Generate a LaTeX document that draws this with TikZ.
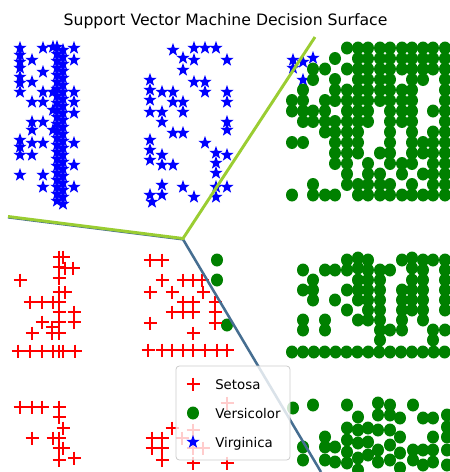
\documentclass[tikz,border=0pt]{standalone}
\usepackage{fontspec}
\setmainfont{DejaVu Sans}
\usetikzlibrary{positioning}
\definecolor{setred}{RGB}{255,0,0}
\definecolor{vergreen}{RGB}{0,128,0}
\definecolor{virblue}{RGB}{0,0,255}
\definecolor{svmgreen}{RGB}{154,205,50}
\definecolor{svmblue}{RGB}{70,110,145}
\tikzset{
    setosa/.pic={\draw[setred, line width=2.1pt] (-6.5,0) -- (6.5,0) (0,-6.5) -- (0,6.5);},
    versicolor/.pic={\fill[vergreen] (0,0) ellipse [x radius=6, y radius=6.5];},
    virginica/.pic={\fill[virblue] (-90:7) -- (-54:2.8) -- (-18:7) -- (18:2.8) -- (54:7)
        -- (90:2.8) -- (126:7) -- (162:2.8) -- (198:7) -- (234:2.8) -- cycle;},
    legtext/.style={anchor=base west, inner sep=0pt, font=\fontsize{10}{12}\selectfont},
    legbox/.style={draw=black!20, fill=white, fill opacity=0.8, rounded corners=2.5pt, line width=0.6pt},
}

\begin{document}
\begin{tikzpicture}[x=0.75pt, y=-0.75pt]
    \useasboundingbox (0,0) rectangle (450,472);
    \node[anchor=base, font=\fontsize{11.75}{14}\selectfont] (title) at (225.5,25) {Support Vector Machine Decision Surface};
    % virginica
    \foreach \x/\y in {20/48,20/55,20/62,20/68,20/77,20/83,20/92,32/60,43/48,43/72,32/82,43/92,32/102,43/102,
        53/92,53/110,53/130,32/122,32/130,43/122,32/143,43/143,20/140,20/147,20/155,32/155,20/175,43/175,43/187,
        74/48,74/60,74/92,74/102,74/113,74/143,74/165,74/187,53/47}
        \pic at (\x,\y) {virginica};
    \foreach \y in {47,54,61,68,75,82,89,96,103,110,117,124,131,138,145,152,159,166,173,180,187,194,201}{
        \pic at (57,\y) {virginica};
        \pic at (63,\y+3) {virginica};
    }
    \foreach \x/\y in {173/50,183/58,194/48,205/48,216/48,227/60,183/70,194/60,150/80,150/90,150/100,150/112,
        162/92,173/92,173/102,183/102,183/112,162/112,162/122,194/82,205/82,205/92,227/92,227/102,227/122,
        227/130,173/133,183/133,205/143,216/153,216/163,216/173,227/155,150/140,150/150,150/160,162/155,
        162/165,173/165,183/187,194/197,162/185,162/195,150/195,216/187,216/197,227/187,152/202,
        293/60,303/62,313/58,293/68,303/80}
        \pic at (\x,\y) {virginica};
    % versicolor
    \foreach \c/\rows in {292/{5,6,9,14},303/{4,5,6,7,9},313/{2,3,6,7,13,14},325/{2,5,6,7,8,14},
        335/{1,3,4,5,7,8,9,10,11,14},347/{0,2,4,5,6,7,8,9,10,11,12,13},358/{0,1,2,3,4,5,6,7,8,9,10,13,14},
        368/{0,1,2,3,4,5,6,7,11,12,13,14},380/{0,1,2,3,4,5,10,12,13,14},390/{0,1,2,3,4,5,6,7,8,9,10,11,13,14},
        402/{0,1,2,4,5,6,7,11,12,14},412/{0,1,2,3,4,5,6,7,8,9,10,11,13,14},423/{0,1,2,3,9,10,12,14},
        433/{0,1,2,6,8,9,10,11,12,13,14},445/{0,1,2,3,4,5,6,7,8,9,10,11,12,13,14}}
        \foreach \r in \rows
            \pic at ({\c},{48+10.5*\r}) {versicolor};
    \foreach \c/\ys in {303/{270,290,320,330},313/{280,290,300},325/{270,320,330},335/{270,300},
        347/{260,270,290,310},358/{258,268,280,290,300,320},368/{260,270,280,290,300,310,320},
        380/{270,280,290,300,310,320,330,340},390/{270,330},402/{260,290,300,310,320,330},
        412/{258,268,280,290,300,310},423/{260,270,280,290,300,310,320},433/{260,330,340},
        445/{260,270,280,290,300,310,330},217/{260,280},227/{325}}
        \foreach \y in \ys
            \pic at (\c,\y) {versicolor};
    \foreach \i in {0,...,14}
        \pic at ({292+10.9*\i},352) {versicolor};
    \foreach \c/\ys in {293/{408},303/{447,460},313/{405},325/{437,447,460},335/{447,462},
        347/{405,428,440,452,463},358/{417,430,443,458,470},368/{428,442,455},378/{403,415,430,450,462},
        390/{405,415,430,445,460},400/{418,437,453,468},413/{405,450,460},423/{418,450,465},
        433/{418,437,450,462},447/{415,427,437,450,465}}
        \foreach \y in \ys
            \pic at (\c,\y) {versicolor};
    % setosa
    \foreach \x/\y in {59/257,63/257,59/267,65/268,73/268,20/280,59/278,59/292,65/292,30/302,42/302,53/302,
        59/302,59/312,74/312,42/322,59/322,74/322,32/333,52/333,59/333,52/327,
        150/260,162/260,162/280,183/280,193/280,202/280,150/292,172/292,203/292,183/302,193/302,172/312,
        183/312,193/312,215/302,215/312,150/323,215/323,193/333,
        20/407,32/407,42/407,59/407,59/417,63/428,32/438,53/438,59/438,59/448,63/448,59/460,74/458,
        152/438,162/438,152/448,162/448,162/460,172/428,
        182/438,193/430,203/448,193/448,193/463,227/403,227/463}
        \pic at (\x,\y) {setosa};
    \foreach \x in {18,30,42,53,59,63,75}
        \pic at (\x,351) {setosa};
    \foreach \x in {148,162,172,183,193,205,217,227}
        \pic at (\x,350) {setosa};
    % decision boundaries
    \coordinate (vtx) at (183,238.5);
    \coordinate (leftend) at (8,216.5);
    \coordinate (topend) at (315,37);
    \coordinate (botend) at (321,472);
    \draw[svmblue, line width=1.9pt] ([yshift=-0.6pt]leftend) -- ([yshift=-0.6pt]vtx) -- (botend);
    \draw[svmgreen, line width=2.2pt] (leftend) -- (vtx) -- (topend);
    % legend
    \draw[legbox] (176,366) rectangle (290,460);
    \pic at (193,384) {setosa};
    \pic at (193,413) {versicolor};
    \pic at (193,442) {virginica};
    \node[legtext] (setosaText) at (215,389) {Setosa};
    \node[legtext] (versiText) at (215,418) {Versicolor};
    \node[legtext] (virgText) at (215,447) {Virginica};
\end{tikzpicture}
\end{document}
